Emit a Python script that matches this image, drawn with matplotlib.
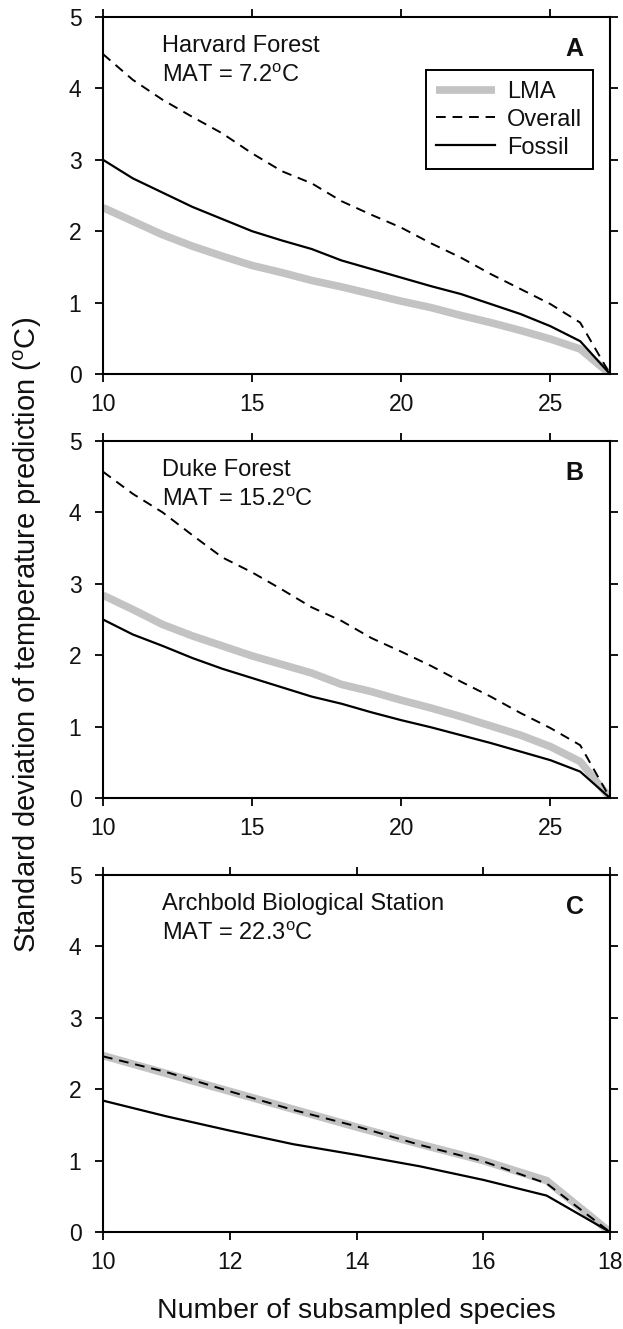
import matplotlib
matplotlib.use("Agg")
import matplotlib.pyplot as plt

plt.rcParams['font.family'] = ['Liberation Sans', 'DejaVu Sans']

# Harvard Forest (A)
x_a = list(range(10, 28))
lma_a = [2.33, 2.14, 1.95, 1.79, 1.65, 1.52, 1.42, 1.31, 1.22, 1.12, 1.02, 0.93, 0.82, 0.72, 0.61, 0.49, 0.35, 0.0]
overall_a = [4.48, 4.12, 3.84, 3.60, 3.37, 3.09, 2.84, 2.67, 2.42, 2.23, 2.05, 1.83, 1.63, 1.40, 1.19, 0.98, 0.72, 0.0]
fossil_a = [3.0, 2.74, 2.54, 2.34, 2.17, 2.0, 1.87, 1.75, 1.59, 1.47, 1.35, 1.23, 1.12, 0.98, 0.84, 0.67, 0.46, 0.0]

# Duke Forest (B)
x_b = list(range(10, 28))
lma_b = [2.84, 2.64, 2.43, 2.27, 2.13, 1.99, 1.87, 1.75, 1.59, 1.49, 1.37, 1.26, 1.14, 1.01, 0.88, 0.72, 0.51, 0.0]
overall_b = [4.57, 4.26, 4.0, 3.68, 3.37, 3.16, 2.92, 2.67, 2.48, 2.24, 2.05, 1.85, 1.63, 1.42, 1.19, 0.98, 0.74, 0.0]
fossil_b = [2.5, 2.29, 2.13, 1.96, 1.81, 1.68, 1.55, 1.42, 1.32, 1.2, 1.09, 0.99, 0.88, 0.77, 0.65, 0.53, 0.37, 0.0]

# Archbold Biological Station (C)
x_c = list(range(10, 19))
lma_c = [2.47, 2.22, 1.97, 1.72, 1.47, 1.23, 1.0, 0.72, 0.0]
overall_c = [2.46, 2.24, 1.97, 1.71, 1.48, 1.22, 0.99, 0.68, 0.0]
fossil_c = [1.84, 1.62, 1.42, 1.23, 1.08, 0.92, 0.73, 0.51, 0.0]

panels = [
    ("Harvard Forest", "MAT = 7.2$^\\mathregular{o}$C", "A", x_a, lma_a, overall_a, fossil_a, [10, 15, 20, 25], (10, 27)),
    ("Duke Forest", "MAT = 15.2$^\\mathregular{o}$C", "B", x_b, lma_b, overall_b, fossil_b, [10, 15, 20, 25], (10, 27)),
    ("Archbold Biological Station", "MAT = 22.3$^\\mathregular{o}$C", "C", x_c, lma_c, overall_c, fossil_c, [10, 12, 14, 16, 18], (10, 18)),
]

fig = plt.figure(figsize=(6.23, 13.29), dpi=100)
left, width = 103 / 623, 507 / 623
bottoms = [1 - 374 / 1329, 1 - 798 / 1329, 1 - 1232 / 1329]
height = 357 / 1329

txt = '#111111'
for i, (site, mat, letter, x, lma, overall, fossil, xt, xl) in enumerate(panels):
    ax = fig.add_axes([left, bottoms[i], width, height])
    ax.plot(x, lma, color='#c3c3c3', lw=5.5, solid_capstyle='butt', label='LMA', zorder=2)
    ax.plot(x, overall, color='black', lw=1.4, ls=(0, (5, 3.5)), label='Overall', zorder=3)
    ax.plot(x, fossil, color='black', lw=1.6, label='Fossil', zorder=4)
    ax.set_xlim(*xl)
    ax.set_ylim(0, 5)
    ax.set_xticks(xt)
    ax.set_yticks(range(0, 6))
    ax.tick_params(direction='out', length=5.5, width=1.3, top=True, right=True,
                   labelsize=16.5, labelcolor=txt)
    ax.tick_params(axis='x', pad=8)
    ax.tick_params(axis='y', pad=10)
    for s in ax.spines.values():
        s.set_linewidth(1.5)
    ax.text(0.116, 0.918, site, transform=ax.transAxes, fontsize=17, color=txt, va='center')
    ax.text(0.116, 0.835, mat, transform=ax.transAxes, fontsize=17, color=txt, va='center')
    ax.text(0.93, 0.91, letter, transform=ax.transAxes, fontsize=18, fontweight='bold',
            color=txt, ha='center', va='center')
    if i == 0:
        leg = ax.legend(loc='upper right', bbox_to_anchor=(0.966, 0.851), fontsize=17,
                        fancybox=False, edgecolor='black', framealpha=1, handlelength=2.5,
                        borderpad=0.45, labelspacing=0.25, handletextpad=0.5, borderaxespad=0)
        leg.get_frame().set_linewidth(1.4)
        for t in leg.get_texts():
            t.set_color(txt)

fig.text(356 / 623, 1 - 1311 / 1329, 'Number of subsampled species', ha='center', va='center',
         fontsize=20.5, color=txt)
fig.text(28 / 623, 1 - 635 / 1329, 'Standard deviation of temperature prediction ($^\\mathregular{o}$C)',
         ha='center', va='center', rotation=90, fontsize=21, color=txt)

fig.savefig('out.png', dpi=100)
